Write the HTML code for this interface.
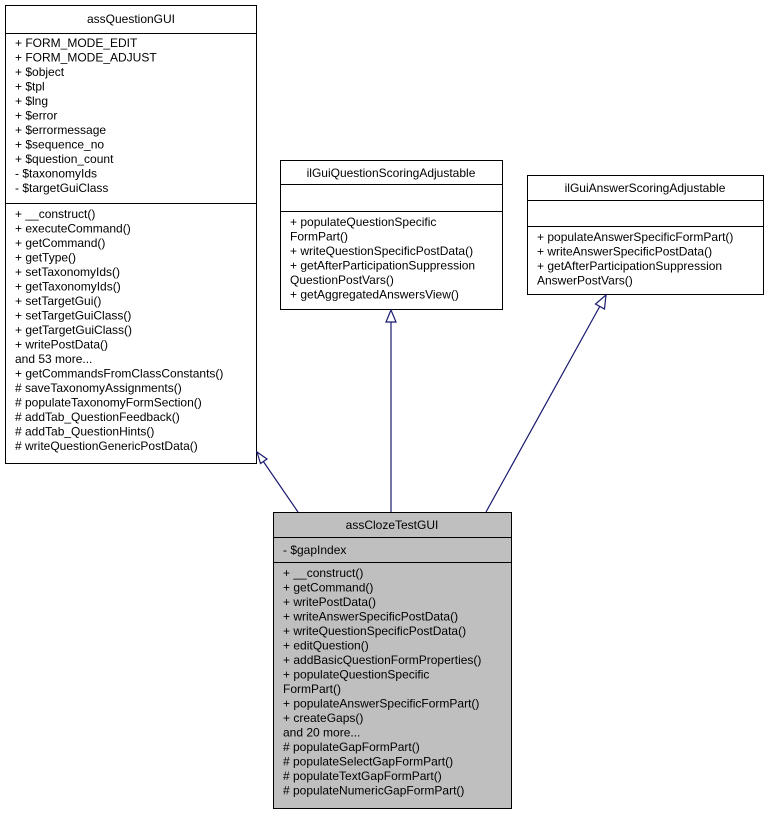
<!DOCTYPE html>
<html><head><meta charset="utf-8"><style>
html,body{margin:0;padding:0;background:#fff;}
svg{display:block;}
text{font-family:"Liberation Sans",Helvetica,sans-serif;font-size:12px;fill:#000;}
</style></head><body>
<svg width="769" height="815" viewBox="0 0 769 815" xmlns="http://www.w3.org/2000/svg">
<g stroke="#000" stroke-width="1" fill="none">
<rect x="5.5" y="5.5" width="251" height="458" fill="#fff"/>
<line x1="5.5" y1="33.5" x2="256.5" y2="33.5"/>
<line x1="5.5" y1="203.5" x2="256.5" y2="203.5"/>
<rect x="280.5" y="160.5" width="222" height="149" fill="#fff"/>
<line x1="280.5" y1="184.5" x2="502.5" y2="184.5"/>
<line x1="280.5" y1="211.5" x2="502.5" y2="211.5"/>
<rect x="527.5" y="175.5" width="236" height="119" fill="#fff"/>
<line x1="527.5" y1="200.5" x2="763.5" y2="200.5"/>
<line x1="527.5" y1="226.5" x2="763.5" y2="226.5"/>
<rect x="273.5" y="512.5" width="238" height="296" fill="#bfbfbf"/>
<line x1="273.5" y1="537.5" x2="511.5" y2="537.5"/>
<line x1="273.5" y1="562.5" x2="511.5" y2="562.5"/>
</g>
<g stroke="#191970" stroke-width="1.2" fill="#fff">
<line x1="298" y1="512" x2="263" y2="461"/>
<polygon points="257,452 260.5,463.5 267,459"/>
<line x1="391" y1="512" x2="391" y2="322"/>
<polygon points="391,310 386,322 396,322"/>
<line x1="486" y1="512" x2="600" y2="306"/>
<polygon points="606,295 595.5,304 604.5,309"/>
</g>
<text x="131" y="23" text-anchor="middle">assQuestionGUI</text>
<g>
<text x="15" y="47">+ FORM_MODE_EDIT</text>
<text x="15" y="61.5">+ FORM_MODE_ADJUST</text>
<text x="15" y="76">+ $object</text>
<text x="15" y="90.5">+ $tpl</text>
<text x="15" y="105">+ $lng</text>
<text x="15" y="119.5">+ $error</text>
<text x="15" y="134">+ $errormessage</text>
<text x="15" y="148.5">+ $sequence_no</text>
<text x="15" y="163">+ $question_count</text>
<text x="15" y="177.5">- $taxonomyIds</text>
<text x="15" y="192">- $targetGuiClass</text>
<text x="15" y="218">+ __construct()</text>
<text x="15" y="232.5">+ executeCommand()</text>
<text x="15" y="247">+ getCommand()</text>
<text x="15" y="261.5">+ getType()</text>
<text x="15" y="276">+ setTaxonomyIds()</text>
<text x="15" y="290.5">+ getTaxonomyIds()</text>
<text x="15" y="305">+ setTargetGui()</text>
<text x="15" y="319.5">+ setTargetGuiClass()</text>
<text x="15" y="334">+ getTargetGuiClass()</text>
<text x="15" y="348.5">+ writePostData()</text>
<text x="15" y="363">and 53 more...</text>
<text x="15" y="377.5">+ getCommandsFromClassConstants()</text>
<text x="15" y="392"># saveTaxonomyAssignments()</text>
<text x="15" y="406.5"># populateTaxonomyFormSection()</text>
<text x="15" y="421"># addTab_QuestionFeedback()</text>
<text x="15" y="435.5"># addTab_QuestionHints()</text>
<text x="15" y="450"># writeQuestionGenericPostData()</text>
</g>
<text x="391" y="177" text-anchor="middle">ilGuiQuestionScoringAdjustable</text>
<text x="290" y="226">+ populateQuestionSpecific</text>
<text x="290" y="240.5">FormPart()</text>
<text x="290" y="255">+ writeQuestionSpecificPostData()</text>
<text x="290" y="269.5">+ getAfterParticipationSuppression</text>
<text x="290" y="284">QuestionPostVars()</text>
<text x="290" y="298.5">+ getAggregatedAnswersView()</text>
<text x="645" y="192" text-anchor="middle">ilGuiAnswerScoringAdjustable</text>
<text x="537" y="241">+ populateAnswerSpecificFormPart()</text>
<text x="537" y="255.5">+ writeAnswerSpecificPostData()</text>
<text x="537" y="270">+ getAfterParticipationSuppression</text>
<text x="537" y="284.5">AnswerPostVars()</text>
<text x="392" y="529" text-anchor="middle">assClozeTestGUI</text>
<text x="283" y="554">- $gapIndex</text>
<g>
<text x="283" y="577">+ __construct()</text>
<text x="283" y="591.5">+ getCommand()</text>
<text x="283" y="606">+ writePostData()</text>
<text x="283" y="620.5">+ writeAnswerSpecificPostData()</text>
<text x="283" y="635">+ writeQuestionSpecificPostData()</text>
<text x="283" y="649.5">+ editQuestion()</text>
<text x="283" y="664">+ addBasicQuestionFormProperties()</text>
<text x="283" y="678.5">+ populateQuestionSpecific</text>
<text x="283" y="693">FormPart()</text>
<text x="283" y="707.5">+ populateAnswerSpecificFormPart()</text>
<text x="283" y="722">+ createGaps()</text>
<text x="283" y="736.5">and 20 more...</text>
<text x="283" y="751"># populateGapFormPart()</text>
<text x="283" y="765.5"># populateSelectGapFormPart()</text>
<text x="283" y="780"># populateTextGapFormPart()</text>
<text x="283" y="794.5"># populateNumericGapFormPart()</text>
</g>
</svg>
</body></html>
